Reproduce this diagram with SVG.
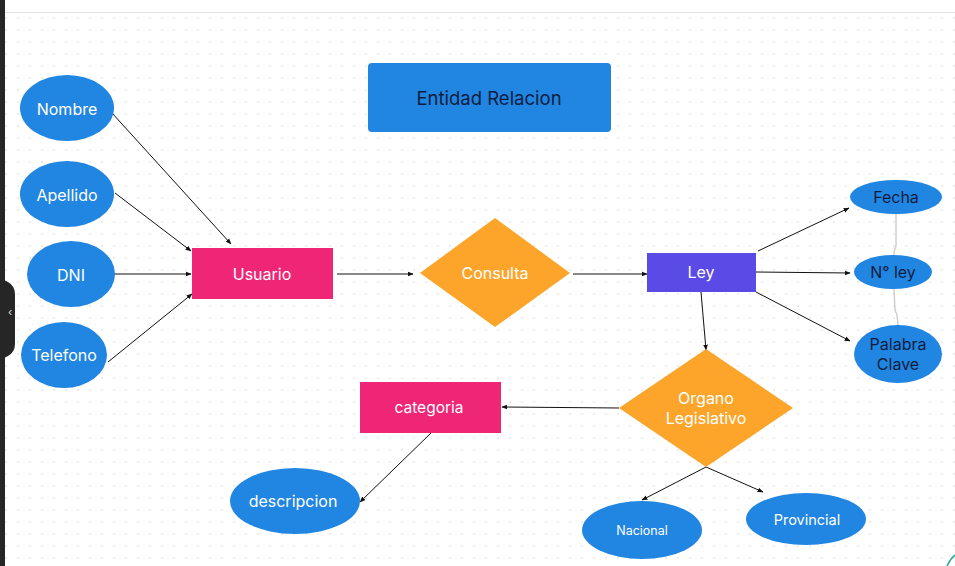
<svg xmlns="http://www.w3.org/2000/svg" width="955" height="566" viewBox="0 0 955 566">
<defs>
<pattern id="dots" x="0" y="0" width="12" height="12" patternUnits="userSpaceOnUse">
<circle cx="6" cy="6" r="0.9" fill="#e4e4e4"/>
</pattern>
<marker id="arr" viewBox="0 0 10 10" refX="9" refY="5" markerWidth="6" markerHeight="6" orient="auto" markerUnits="userSpaceOnUse">
<path d="M0,1 L10,5 L0,9 z" fill="#111"/>
</marker>
</defs>
<style>
.attr{fill:#2185e2}
.ent{fill:#ef2576}
.rel{fill:#fca52a}
.w{font-family:Inter,"Liberation Sans",sans-serif;font-size:16px;fill:#ffffff;text-anchor:middle;dominant-baseline:central}
.d{font-family:Inter,"Liberation Sans",sans-serif;font-size:16px;fill:#0c1d3f;text-anchor:middle;dominant-baseline:central}
.c line,.c path{stroke:#111;stroke-width:1;fill:none;marker-end:url(#arr)}
</style>
<rect width="955" height="566" fill="#ffffff"/>
<rect x="0" y="13" width="955" height="553" fill="url(#dots)"/>
<line x1="0" y1="12.5" x2="955" y2="12.5" stroke="#e2e2e2" stroke-width="1"/>
<rect x="0" y="0" width="5" height="566" fill="#262626"/>
<path d="M0,278 L8,282 Q15,286 15,294 L15,344 Q15,352 8,356 L0,360 z" fill="#262626"/>
<text x="10" y="312" font-family="Inter,'Liberation Sans',sans-serif" font-size="11" fill="#dddddd" text-anchor="middle" dominant-baseline="central">‹</text>
<path d="M947,566 Q950,559 955,555" stroke="#2aa7a0" stroke-width="1.5" fill="none"/>

<path d="M896,213 L896,246 L894,252 L894,255 M894,289 L895,310 L897,315 L898,325" stroke="#cfcfcf" stroke-width="1.5" fill="none"/>

<g id="connectors" class="c">
<line x1="112" y1="113" x2="231" y2="244"/>
<line x1="115" y1="193" x2="191" y2="251"/>
<line x1="114" y1="274" x2="191" y2="274"/>
<line x1="108" y1="362" x2="192" y2="294"/>
<line x1="337" y1="274" x2="413" y2="274"/>
<line x1="573" y1="274" x2="647" y2="274"/>
<line x1="758" y1="251" x2="849" y2="208"/>
<line x1="756" y1="272" x2="850" y2="273"/>
<line x1="756" y1="292" x2="850" y2="341"/>
<line x1="701" y1="292" x2="706" y2="350"/>
<line x1="619" y1="408" x2="502" y2="407"/>
<line x1="431" y1="433" x2="360" y2="502"/>
<line x1="706" y1="467" x2="642" y2="500"/>
<line x1="706" y1="467" x2="763" y2="492"/>
</g>

<g id="title"><rect x="368" y="63" width="243" height="69" rx="4" fill="#2185e2"/><text class="d" x="489" y="98" style="font-size:18.5px">Entidad Relacion</text></g>
<g id="nombre"><ellipse class="attr" cx="67" cy="108" rx="47" ry="33"/><text class="w" x="67" y="109">Nombre</text></g>
<g id="apellido"><ellipse class="attr" cx="67" cy="194" rx="47" ry="33"/><text class="w" x="67" y="195">Apellido</text></g>
<g id="dni"><ellipse class="attr" cx="71" cy="274" rx="44" ry="33"/><text class="w" x="71" y="275">DNI</text></g>
<g id="telefono"><ellipse class="attr" cx="64" cy="355" rx="43" ry="33"/><text class="w" x="64" y="355">Telefono</text></g>
<g id="usuario"><rect class="ent" x="192" y="248" width="141" height="51"/><text class="w" x="262" y="274">Usuario</text></g>
<g id="consulta"><polygon class="rel" points="495,218 570,273 495,327 420,273"/><text class="w" x="495" y="273">Consulta</text></g>
<g id="ley"><rect x="647" y="253" width="109" height="39" fill="#5b4be6"/><text class="w" x="701" y="272">Ley</text></g>
<g id="fecha"><ellipse class="attr" cx="896" cy="197" rx="46" ry="17"/><text class="d" x="896" y="197">Fecha</text></g>
<g id="nley"><ellipse class="attr" cx="893" cy="272" rx="39" ry="17"/><text class="d" x="893" y="272">N° ley</text></g>
<g id="palabra"><ellipse class="attr" cx="898" cy="354" rx="44" ry="29"/><text class="d" x="898" y="344">Palabra</text><text class="d" x="898" y="364">Clave</text></g>
<g id="organo"><polygon class="rel" points="706,349 793,408 706,467 619,408"/><text class="w" x="706" y="398">Organo</text><text class="w" x="706" y="418">Legislativo</text></g>
<g id="categoria"><rect class="ent" x="360" y="382" width="141" height="51"/><text class="w" x="429" y="407" style="font-size:15.5px">categoria</text></g>
<g id="descripcion"><ellipse class="attr" cx="295" cy="501" rx="65" ry="33"/><text class="w" x="293" y="501">descripcion</text></g>
<g id="nacional"><ellipse class="attr" cx="642" cy="530" rx="60" ry="29"/><text class="w" x="642" y="530" style="font-size:12.5px">Nacional</text></g>
<g id="provincial"><ellipse class="attr" cx="806" cy="519" rx="60" ry="26"/><text class="w" x="807" y="519" style="font-size:14.5px">Provincial</text></g>
</svg>
